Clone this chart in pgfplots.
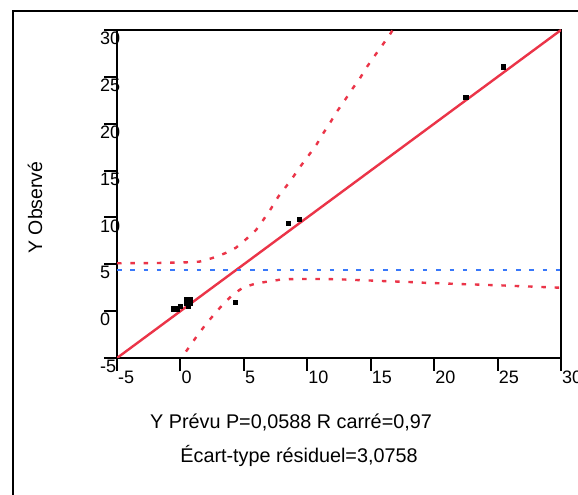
\documentclass[border=0pt]{standalone}
\usepackage{pgfplots}
\pgfplotsset{compat=1.18}
\usepackage{fontspec}
\setmainfont{Liberation Sans}
\definecolor{fitred}{RGB}{235,52,72}
\definecolor{meanblue}{RGB}{56,120,250}
% tick labels sit underneath the (white) plot area, so the box edge trims them
\pgfplotsset{
  layers/labelsbehind/.define layer set={axis tick labels,axis background,axis grid,axis ticks,axis lines,main,axis descriptions,axis foreground}{},
}
\begin{document}
\begin{tikzpicture}[x=1pt,y=1pt]
\draw[line width=2pt] (13,-20) -- (13,484) -- (620,484);
\begin{axis}[
  set layers=labelsbehind,
  at={(117pt,137pt)}, anchor=south west,
  scale only axis, width=444pt, height=328pt,
  xmin=-5, xmax=30, ymin=-5, ymax=30,
  axis background/.style={fill=white},
  axis line style={line width=2pt, black},
  xtick={-5,0,...,30}, ytick={-5,0,...,30},
  xtick pos=bottom, ytick pos=left,
  tick align=outside, major tick length=13pt,
  tick style={line width=2pt, black},
  /pgf/number format/assume math mode=true,
  ticklabel style={font=\fontsize{18}{20}\selectfont, inner sep=0pt},
  xticklabel style={anchor=north west, xshift=1pt},
  yticklabel style={anchor=north west, xshift=-4pt, yshift=-2pt},
  clip=true,
]
% fitted line
\addplot[fitred, line width=2.4pt] coordinates {(-5,-5) (30,30)};
% mean of Y
\addplot[meanblue, line width=2.4pt, dash pattern=on 4.5pt off 8.8pt] coordinates {(-5,4.36) (30,4.36)};
% upper confidence curve
\addplot[fitred, line width=2.4pt, dash pattern=on 4.5pt off 8.8pt] coordinates {
  (-5,5.11) (-2,5.13) (0.49,5.21) (1.49,5.28) (2.46,5.64) (3.51,6.17) (4.38,6.77)
  (5.17,7.67) (5.96,8.66) (6.53,9.73) (7.12,10.9) (7.71,12.21) (8.32,13.28)
  (8.9,14.35) (9.5,15.52) (10.13,16.66) (10.74,17.8) (11.26,18.98) (11.85,20.22)
  (12.37,21.36) (12.97,22.53) (13.55,23.71) (14.15,24.85) (14.68,26.02)
  (15.26,27.15) (15.89,28.33) (16.52,29.54) (17.0,30.6)};
% lower confidence curve
\addplot[fitred, line width=2.4pt, dash pattern=on 4.5pt off 8.8pt] coordinates {
  (0.05,-5.6) (0.18,-4.79) (0.81,-3.61) (1.41,-2.44) (2.07,-1.30) (2.73,-0.23)
  (3.38,0.76) (4.12,1.75) (4.96,2.54) (6.01,2.97) (7.01,3.18) (8.06,3.40)
  (9.11,3.43) (10.16,3.43) (11.21,3.43) (12.26,3.40) (13.31,3.36) (14.37,3.29)
  (15.39,3.25) (16.44,3.18) (17.49,3.14) (18.55,3.08) (19.59,3.00) (20.64,2.97)
  (21.70,2.90) (22.75,2.86) (23.80,2.82) (24.85,2.76) (25.90,2.72) (26.95,2.65)
  (28.0,2.61) (29.05,2.54) (30,2.50)};
% observations
\addplot[only marks, mark=square*, mark size=2.2pt, black] coordinates {
  (-0.59,0.28) (-0.27,0.28) (-0.03,0.55) (0.44,1.24) (0.75,1.24) (0.44,0.87)
  (0.75,0.87) (0.60,0.60) (4.30,0.98) (8.50,9.37) (9.37,9.83) (22.49,22.85)
  (25.45,26.09)};
\end{axis}
\node[rotate=90, font=\fontsize{19.5}{22}\selectfont] at (35,287.5) {Y Observé};
\node[anchor=base, font=\fontsize{19.8}{22}\selectfont] at (291,66) {Y Prévu P=0,0588 R carré=0,97};
\node[anchor=base, font=\fontsize{19.8}{22}\selectfont] at (299,32) {Écart-type résiduel=3,0758};
% page is exactly the 578 x 495 frame
\pgfresetboundingbox
\useasboundingbox (0,0) rectangle (578,495);
\end{tikzpicture}
\end{document}
